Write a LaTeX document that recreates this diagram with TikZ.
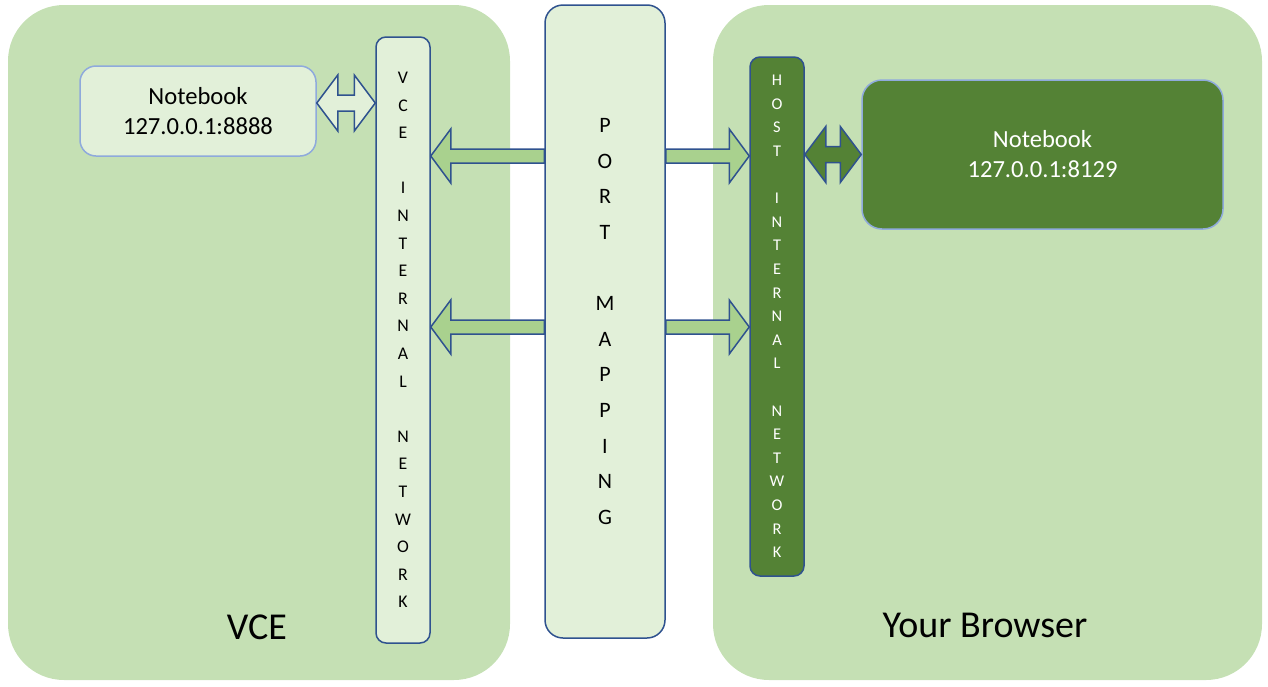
\documentclass[tikz,border=0pt]{standalone}
\usepackage{fontspec}
\setmainfont{Carlito}
\usetikzlibrary{calc,positioning}
\definecolor{zonegreen}{HTML}{C5E0B4}
\definecolor{palegreen}{HTML}{E2F0D9}
\definecolor{darkgreen}{HTML}{548235}
\definecolor{arrowgreen}{HTML}{A9D18E}
\definecolor{edgeblue}{HTML}{2F528F}
\definecolor{softblue}{HTML}{8FAADC}
\tikzset{
  zone/.style={fill=zonegreen, rounded corners=28pt, minimum height=337.5pt, inner sep=0pt},
  zonelbl/.style={font=\fontsize{19}{23}\selectfont, inner sep=0pt},
  bar/.style={draw=edgeblue, line width=0.75pt, fill=palegreen, rounded corners=5pt,
    minimum width=27pt, align=center, inner sep=0pt},
  darkbar/.style={fill=darkgreen, text=white},
  nbook/.style={draw=softblue, line width=0.75pt, fill=palegreen, rounded corners=8pt,
    align=center, font=\fontsize{12.3}{15}\selectfont},
  darknb/.style={fill=darkgreen, text=white},
  bigarrow/.style={draw=edgeblue, line width=0.75pt, fill=arrowgreen, line join=miter},
  smallarrow/.style={draw=edgeblue, line width=0.75pt, fill=palegreen, line join=miter}
}
\newcommand{\portfont}{\fontsize{11}{17.8}\selectfont}
\newcommand{\netfont}{\fontsize{8.9}{13.8}\selectfont}
\newcommand{\hostfont}{\fontsize{8.2}{11.8}\selectfont}
% one-headed block arrow: #2 tail, #3 tip
\newcommand{\fatarrow}[3][]{%
  \coordinate (fa-h) at ($(#3)!10pt!(#2)$);
  \draw[#1] ($(#2)!3.5pt!90:(#3)$) -- ($(fa-h)!3.5pt!90:(#3)$)
    -- ($(fa-h)!13.5pt!90:(#3)$) -- (#3)
    -- ($(fa-h)!13.5pt!-90:(#3)$) -- ($(fa-h)!3.5pt!-90:(#3)$)
    -- ($(#2)!3.5pt!-90:(#3)$) -- cycle;}
% two-headed block arrow between #2 and #3
\newcommand{\dblarrow}[3][]{%
  \coordinate (da-a) at ($(#2)!10.5pt!(#3)$);
  \coordinate (da-b) at ($(#3)!10.5pt!(#2)$);
  \draw[#1] (#2) -- ($(da-a)!14pt!90:(#3)$) -- ($(da-a)!4pt!90:(#3)$)
    -- ($(da-b)!4pt!-90:(#2)$) -- ($(da-b)!14pt!-90:(#2)$) -- (#3)
    -- ($(da-b)!14pt!90:(#2)$) -- ($(da-b)!4pt!90:(#2)$)
    -- ($(da-a)!4pt!-90:(#3)$) -- ($(da-a)!14pt!-90:(#3)$) -- cycle;}

\begin{document}
\begin{tikzpicture}[x=0.5pt, y=-0.5pt]
  \useasboundingbox (0,0) rectangle (1268,686);
  % the two sides
  \node[zone, minimum width=251pt] (vce) at (259,342.5) {};
  \node[zone, minimum width=274.5pt] (browser) at (987.5,342.5) {};
  \node[zonelbl] (vcelbl) at (257,627) {VCE};
  \node[zonelbl] (browserlbl) at (985,625) {Your Browser};

  % bars
  \node[bar, minimum width=60pt, minimum height=316.5pt, rounded corners=9pt, font=\portfont]
    (portmap) at (605,321.5) {P\\O\\R\\T\\~\\M\\A\\P\\P\\I\\N\\G};
  \node[bar, minimum height=303pt, font=\netfont] (vcenet) at (403,340)
    {V\\C\\E\\~\\I\\N\\T\\E\\R\\N\\A\\L\\~\\N\\E\\T\\W\\O\\R\\K};
  \node[bar, darkbar, minimum height=259.5pt, font=\hostfont] (hostnet) at (777,316.5)
    {H\\O\\S\\T\\~\\I\\N\\T\\E\\R\\N\\A\\L\\~\\N\\E\\T\\W\\O\\R\\K};

  % notebooks
  \node[nbook, minimum width=118pt, minimum height=45pt] (nbvce) at (198,111)
    {Notebook\\127.0.0.1:8888};
  \node[nbook, darknb, minimum width=180.5pt, minimum height=74.5pt, rounded corners=10pt]
    (nbhost) at (1042.5,154.5) {Notebook\\127.0.0.1:8129};

  % port mapping arrows
  \coordinate (rowup) at (0,156);
  \coordinate (rowdn) at (0,327);
  \foreach \r in {rowup,rowdn}{
    \coordinate (pmw-\r) at (portmap.west |- \r);
    \coordinate (pme-\r) at (portmap.east |- \r);
    \coordinate (vce-\r) at (vcenet.east |- \r);
    \coordinate (host-\r) at (hostnet.west |- \r);
    \fatarrow[bigarrow]{pmw-\r}{vce-\r}
    \fatarrow[bigarrow]{pme-\r}{host-\r}
  }

  % notebook links
  \coordinate (nbvce-port) at ($(nbvce.east)+(0,-8)$);
  \coordinate (vcenet-port) at (vcenet.west |- nbvce-port);
  \coordinate (hostnet-port) at (hostnet.east |- nbhost.west);
  \dblarrow[smallarrow]{nbvce-port}{vcenet-port}
  \dblarrow[smallarrow, fill=darkgreen]{hostnet-port}{nbhost.west}
\end{tikzpicture}
\end{document}
